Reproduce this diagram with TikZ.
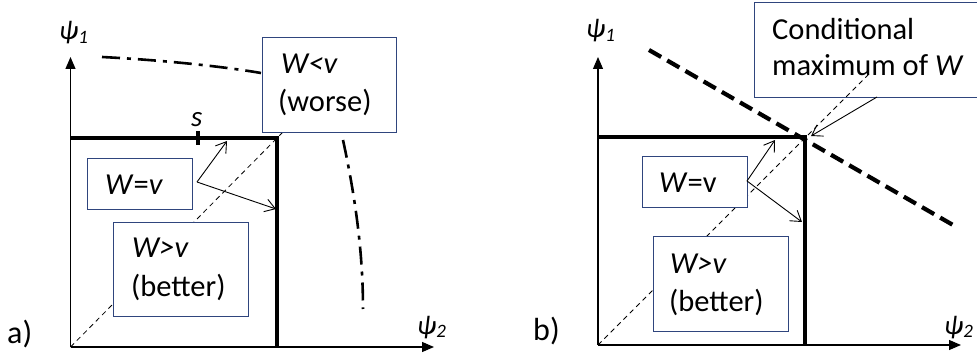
\documentclass[tikz,border=0pt]{standalone}
\usepackage{fontspec}
\setmainfont{Carlito}
\usetikzlibrary{arrows.meta}
\definecolor{boxblue}{RGB}{47,69,125}
\begin{document}
\begin{tikzpicture}[x=1pt,y=-1pt,
 box/.style={draw=boxblue,line width=1.1pt,fill=white,anchor=north west,inner sep=0pt},
 lbl/.style={anchor=base west,inner sep=0pt,font=\fontsize{30.5}{36}\selectfont},
 psil/.style={anchor=base west,inner sep=0pt,font=\fontsize{27}{32}\selectfont\itshape},
 axis/.style={line width=1.1pt,-{Triangle[length=12pt,width=10pt]}},
 bound/.style={line width=3.4pt},
 diag/.style={line width=0.8pt,dash pattern=on 5pt off 4pt},
 tarrow/.style={line width=0.9pt,-{Straight Barb[length=10pt,width=13pt]}},
 ddot/.style={line width=2.6pt,dash pattern=on 18pt off 7pt on 4pt off 7pt},
 bigdash/.style={line width=4.2pt,dash pattern=on 14pt off 7pt}]
\useasboundingbox (0,0) rectangle (977,358);

% ---------- panel a ----------
\coordinate (oa) at (70.5,347);
\coordinate (ya) at (70.5,57);
\coordinate (xa) at (434,347);
\coordinate (ca) at (277,138);
\coordinate (ta) at (70.5,138);
\coordinate (ba) at (277,347);
\coordinate (da) at (284,131);
\draw[diag] (oa) -- (da);
\draw[axis] (oa) -- (ya);
\draw[axis] (oa) -- (xa);
\draw[bound] (ta) -- (ca) -- (ba);
\coordinate (s1) at (198,131);
\coordinate (s2) at (198,145);
\draw[line width=3.4pt] (s1) -- (s2);
\node[psil,font=\fontsize{29}{34}\selectfont\itshape] (sl) at (191,127) {s};

\draw[ddot] (102,57) .. controls (160,60) and (220,66) .. (261,73);
\draw[ddot] (343,140) .. controls (356,200) and (363,255) .. (363,309);

\node[box,minimum width=134pt,minimum height=95pt] (wla) at (262,37) {};
\node[lbl] (wla1) at (281,74) {\textit{W<v}};
\node[lbl] (wla2) at (278,112) {(worse)};

\node[box,minimum width=105pt,minimum height=51pt] (wea) at (87,158) {};
\node[lbl] (wea1) at (105,195) {\textit{W}=\textit{v}};

\node[box,minimum width=135pt,minimum height=94pt] (wga) at (113,222) {};
\node[lbl] (wga1) at (132,258) {\textit{W>v}};
\node[lbl] (wga2) at (131,296) {(better)};

\coordinate (ea) at (197,182);
\coordinate (ea1) at (227,141);
\coordinate (ea2) at (276,209);
\draw[tarrow] (ea) -- (ea1);
\draw[tarrow] (ea) -- (ea2);

\node[psil] (p1a) at (59,40) {ψ\textsubscript{1}};
\node[psil] (p2a) at (417,334) {ψ\textsubscript{2}};
\node[lbl,font=\fontsize{32}{36}\selectfont] (la) at (7,343) {a)};

% ---------- panel b ----------
\coordinate (ob) at (598,345);
\coordinate (yb) at (598,57);
\coordinate (xb) at (961,345);
\coordinate (cb) at (805,137);
\coordinate (tb) at (598,137);
\coordinate (bb) at (805,345);
\coordinate (db) at (870,73);
\draw[axis] (ob) -- (yb);
\draw[axis] (ob) -- (xb);

\node[box,minimum width=230pt,minimum height=95pt] (cm) at (754,2) {};
\node[lbl] (cm1) at (772,40) {Conditional};
\node[lbl] (cm2) at (772,76) {maximum of \textit{W}};

\draw[diag] (ob) -- (db);
\draw[bound] (tb) -- (cb) -- (bb);
\coordinate (q1) at (649,50);
\coordinate (q2) at (953,225);
\draw[bigdash] (q1) -- (q2);

\node[box,minimum width=105pt,minimum height=51pt] (web) at (642,156) {};
\node[lbl] (web1) at (659,193) {\textit{W}=v};

\node[box,minimum width=135pt,minimum height=95pt] (wgb) at (653,236) {};
\node[lbl] (wgb1) at (670,273) {\textit{W>v}};
\node[lbl] (wgb2) at (669,311) {(better)};

\coordinate (eb) at (747,181);
\coordinate (eb1) at (775,140);
\coordinate (eb2) at (802,222);
\draw[tarrow] (eb) -- (eb1);
\draw[tarrow] (eb) -- (eb2);

\coordinate (cma) at (877,97);
\coordinate (cmt) at (811,136);
\draw[tarrow] (cma) -- (cmt);

\node[psil] (p1b) at (586,38) {ψ\textsubscript{1}};
\node[psil] (p2b) at (944,334) {ψ\textsubscript{2}};
\node[lbl,font=\fontsize{32}{36}\selectfont] (lb) at (533,340) {b)};
\end{tikzpicture}
\end{document}
